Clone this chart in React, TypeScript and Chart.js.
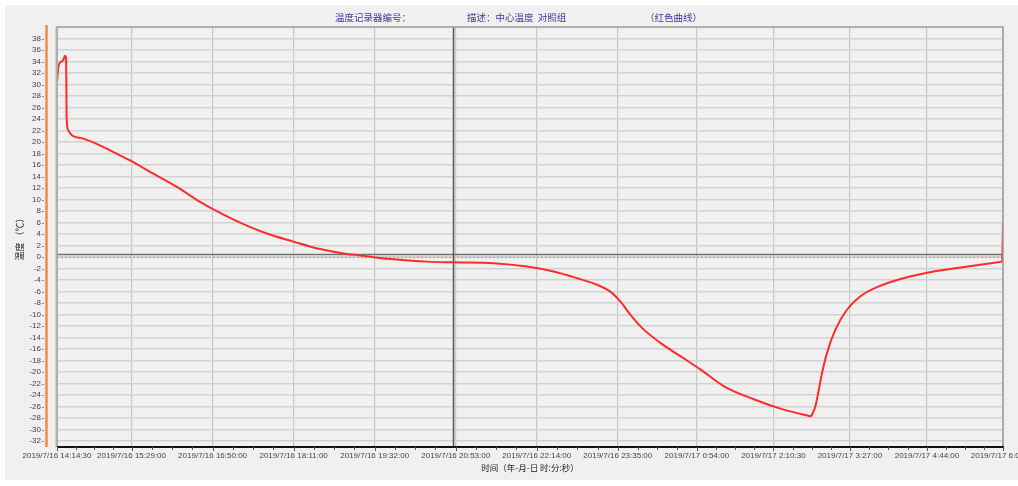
import React, { useEffect, useRef } from "react";
import { Chart, registerables } from "chart.js";

Chart.register(...registerables);

// ---------- data ----------
const startTime = "2019/7/16 14:14:30";

const xTickLabels = [
  "2019/7/16 14:14:30",
  "2019/7/16 15:29:00",
  "2019/7/16 16:50:00",
  "2019/7/16 18:11:00",
  "2019/7/16 19:32:00",
  "2019/7/16 20:53:00",
  "2019/7/16 22:14:00",
  "2019/7/16 23:35:00",
  "2019/7/17 0:54:00",
  "2019/7/17 2:10:30",
  "2019/7/17 3:27:00",
  "2019/7/17 4:44:00",
  "2019/7/17 6:00:00",
];

const yTicks = [
  -32, -30, -28, -26, -24, -22, -20, -18, -16, -14, -12, -10, -8, -6, -4, -2, 0,
  2, 4, 6, 8, 10, 12, 14, 16, 18, 20, 22, 24, 26, 28, 30, 32, 34, 36, 38,
];

// minutes elapsed since start time
const elapsedMinutes = [
  0, 1.3, 3, 4.7, 6.3, 8, 9, 9.3, 9.6, 11.3, 14.7, 26.3, 39.7, 49.7, 73, 96.3,
  119.7, 143, 156.3, 183, 209.7, 236.3, 263, 289.7, 303, 316.3, 336.3, 369.7,
  395.3, 436.3, 469.7, 496.3, 519.7, 539.7, 553, 563, 573, 584.7, 603, 623, 643,
  666.3, 696.3, 726.3, 753.7, 758, 764.7, 769.7, 778, 789.7, 803, 819.7, 843,
  869.7, 899.7, 944.8, 945.5,
];

// temperature (°C)
const temperatures = [
  30.4, 33.0, 33.8, 34.0, 34.3, 35.0, 34.7, 31.2, 24.3, 22.0, 21.2, 20.6, 19.7,
  18.85, 16.8, 14.5, 12.2, 9.6, 8.3, 6.0, 4.1, 2.7, 1.4, 0.55, 0.3, 0.0, -0.36,
  -0.78, -0.9, -1.06, -1.64, -2.5, -3.66, -4.8, -6.0, -7.7, -10.0, -12.3, -14.9,
  -17.2, -19.5, -22.4, -24.7, -26.5, -27.7, -25.9, -20.1, -16.6, -12.6, -9.1,
  -6.8, -5.2, -3.8, -2.7, -1.9, -0.78, 5.9,
];

const cursorTime = "2019/7/16 20:50:00";
const upperRefValue = 0.5;
const zeroRefValue = 0;

const headerTexts = ["温度记录器编号：", "描述：中心温度  对照组", "（红色曲线）"];
const yAxisTitle = "温度 （℃）";
const xAxisTitle = "时间（年-月-日 时:分:秒）";

// ---------- helpers ----------
function parseTime(s: string): number {
  const [d, t] = s.split(" ");
  const [Y, M, D] = d.split("/").map(Number);
  const [h, m, sec] = t.split(":").map(Number);
  return Date.UTC(Y, M - 1, D, h, m, sec || 0);
}
const toMinutes = (s: string) => (parseTime(s) - parseTime(startTime)) / 60000;
const xTickValues = xTickLabels.map(toMinutes);
const cursorMinutes = toMinutes(cursorTime);

const points = elapsedMinutes.map((x, i) => ({ x, y: temperatures[i] }));
// split the single series into smooth pieces at its sharp corners
const minIdx = temperatures.indexOf(Math.min(...temperatures));
const lastIdx = points.length - 1;
const pieces = [
  { data: points.slice(0, minIdx + 1), tension: 0.4 },
  { data: points.slice(minIdx, lastIdx), tension: 0.4 },
  { data: points.slice(lastIdx - 1), tension: 0 },
];

const CANVAS_W = 1100;
const CANVAS_H = 486;
const tickFont = { family: "'Liberation Sans', Arial, sans-serif", size: 8 };
const cjkFont = "'Noto Sans CJK SC', sans-serif";

const decorPlugin = {
  id: "decor",
  beforeDraw(chart: any) {
    const { ctx } = chart;
    ctx.save();
    ctx.fillStyle = "#ffffff";
    ctx.fillRect(0, 0, chart.width, chart.height);
    ctx.fillStyle = "#f0f0f0";
    ctx.fillRect(5, 5, chart.width, 475);
    ctx.restore();
  },
  beforeDatasetsDraw(chart: any) {
    const { ctx, chartArea: a, scales } = chart;
    const xs = scales.x;
    const ys = scales.y;
    ctx.save();
    const yU = Math.round(ys.getPixelForValue(upperRefValue)) + 0.5;
    ctx.strokeStyle = "#707070";
    ctx.lineWidth = 1.5;
    ctx.beginPath();
    ctx.moveTo(a.left, yU);
    ctx.lineTo(a.right, yU);
    ctx.stroke();
    const y0 = Math.round(ys.getPixelForValue(zeroRefValue)) + 0.5;
    ctx.strokeStyle = "#d98888";
    ctx.lineWidth = 1.2;
    ctx.setLineDash([2, 2]);
    ctx.beginPath();
    ctx.moveTo(a.left, y0);
    ctx.lineTo(a.right, y0);
    ctx.stroke();
    ctx.setLineDash([]);
    const xc = Math.round(xs.getPixelForValue(cursorMinutes)) + 0.5;
    ctx.strokeStyle = "#555555";
    ctx.lineWidth = 1.5;
    ctx.beginPath();
    ctx.moveTo(xc, a.top);
    ctx.lineTo(xc, a.bottom);
    ctx.stroke();
    ctx.restore();
  },
  afterDraw(chart: any) {
    const { ctx, chartArea: a, scales } = chart;
    const xs = scales.x;
    ctx.save();
    ctx.strokeStyle = "#9a9a9a";
    ctx.lineWidth = 1.5;
    ctx.beginPath();
    ctx.moveTo(a.left, a.bottom);
    ctx.lineTo(a.left, a.top);
    ctx.lineTo(a.right, a.top);
    ctx.lineTo(a.right, a.bottom);
    ctx.stroke();
    ctx.strokeStyle = "#b0b0b0";
    ctx.lineWidth = 2;
    ctx.beginPath();
    ctx.moveTo(a.left - 0.5, a.top);
    ctx.lineTo(a.left - 0.5, a.bottom);
    ctx.stroke();
    ctx.strokeStyle = "#111111";
    ctx.lineWidth = 2;
    ctx.beginPath();
    ctx.moveTo(a.left, a.bottom);
    ctx.lineTo(a.right + 1, a.bottom);
    ctx.stroke();
    ctx.strokeStyle = "#555555";
    ctx.lineWidth = 1;
    for (let i = 0; i < xTickValues.length; i++) {
      const px = Math.round(xs.getPixelForValue(xTickValues[i])) + 0.5;
      ctx.beginPath();
      ctx.moveTo(px, a.bottom);
      ctx.lineTo(px, a.bottom + 4);
      ctx.stroke();
      if (i < xTickValues.length - 1) {
        for (let k = 1; k < 4; k++) {
          const v = xTickValues[i] + ((xTickValues[i + 1] - xTickValues[i]) * k) / 4;
          const mx = Math.round(xs.getPixelForValue(v)) + 0.5;
          ctx.beginPath();
          ctx.moveTo(mx, a.bottom);
          ctx.lineTo(mx, a.bottom + 3);
          ctx.stroke();
        }
      }
    }
    const ys = scales.y;
    ctx.strokeStyle = "#888888";
    for (const t of yTicks) {
      const py = Math.round(ys.getPixelForValue(t)) + 0.5;
      ctx.beginPath();
      ctx.moveTo(a.left - 15, py);
      ctx.lineTo(a.left - 13, py);
      ctx.stroke();
    }
    ctx.strokeStyle = "#f58a45";
    ctx.lineWidth = 2.5;
    ctx.beginPath();
    ctx.moveTo(a.left - 10.5, a.top - 2);
    ctx.lineTo(a.left - 10.5, a.bottom);
    ctx.stroke();
    ctx.fillStyle = "#3a3a9a";
    ctx.font = `9.5px ${cjkFont}`;
    ctx.textBaseline = "middle";
    ctx.textAlign = "left";
    ctx.fillText(headerTexts[0], 335, 17);
    ctx.fillText(headerTexts[1], 467, 17);
    ctx.fillText(headerTexts[2], 645, 17);
    ctx.restore();
  },
};

export default function App() {
  const canvasRef = useRef<HTMLCanvasElement | null>(null);

  useEffect(() => {
    const canvas = canvasRef.current;
    if (!canvas) return;
    const chart = new Chart(canvas, {
      type: "line",
      data: {
        datasets: pieces.map((p) => ({
          data: p.data,
          borderColor: "#ff2a2a",
          borderWidth: 2,
          pointRadius: 0,
          fill: false,
          cubicInterpolationMode: p.tension > 0 ? "monotone" : "default",
          tension: p.tension,
        })),
      },
      options: {
        responsive: false,
        animation: false,
        layout: { padding: { left: 0, top: 27, right: CANVAS_W - 1003, bottom: 9 } },
        plugins: {
          legend: { display: false },
          tooltip: { enabled: false },
          title: { display: false },
        },
        scales: {
          x: {
            type: "linear",
            min: xTickValues[0],
            max: xTickValues[xTickValues.length - 1],
            afterBuildTicks: (scale: any) => {
              scale.ticks = xTickValues.map((v) => ({ value: v }));
            },
            afterFit: (scale: any) => {
              scale.height = 30;
            },
            ticks: {
              autoSkip: false,
              maxRotation: 0,
              minRotation: 0,
              padding: 4,
              color: "#444444",
              font: tickFont,
              callback: (_v: any, i: number) => xTickLabels[i],
            },
            grid: {
              color: "#c6c6c6",
              lineWidth: 1.2,
              drawTicks: false,
            },
            border: { display: false },
            title: {
              display: true,
              text: xAxisTitle,
              color: "#222222",
              font: { family: cjkFont, size: 8.5 },
              padding: { top: 0, bottom: 4 },
            },
          },
          y: {
            type: "linear",
            min: -33,
            max: 40,
            afterBuildTicks: (scale: any) => {
              scale.ticks = yTicks.map((v) => ({ value: v }));
            },
            afterFit: (scale: any) => {
              scale.width = 57;
            },
            ticks: {
              padding: 16,
              color: "#444444",
              font: tickFont,
              autoSkip: false,
            },
            grid: {
              color: "#d2d2d2",
              lineWidth: 1.5,
              drawTicks: false,
            },
            border: { display: false },
            title: {
              display: true,
              text: yAxisTitle,
              color: "#222222",
              font: { family: cjkFont, size: 9 },
              padding: { top: 14, bottom: 0 },
            },
          },
        },
      },
      plugins: [decorPlugin],
    } as any);
    return () => chart.destroy();
  }, []);

  return (
    <div
      style={{
        position: "fixed",
        left: 0,
        top: 0,
        width: 1018,
        height: 486,
        overflow: "hidden",
        background: "#ffffff",
      }}
    >
      <canvas
        ref={canvasRef}
        width={CANVAS_W}
        height={CANVAS_H}
        style={{ width: CANVAS_W, height: CANVAS_H, display: "block" }}
      />
    </div>
  );
}
